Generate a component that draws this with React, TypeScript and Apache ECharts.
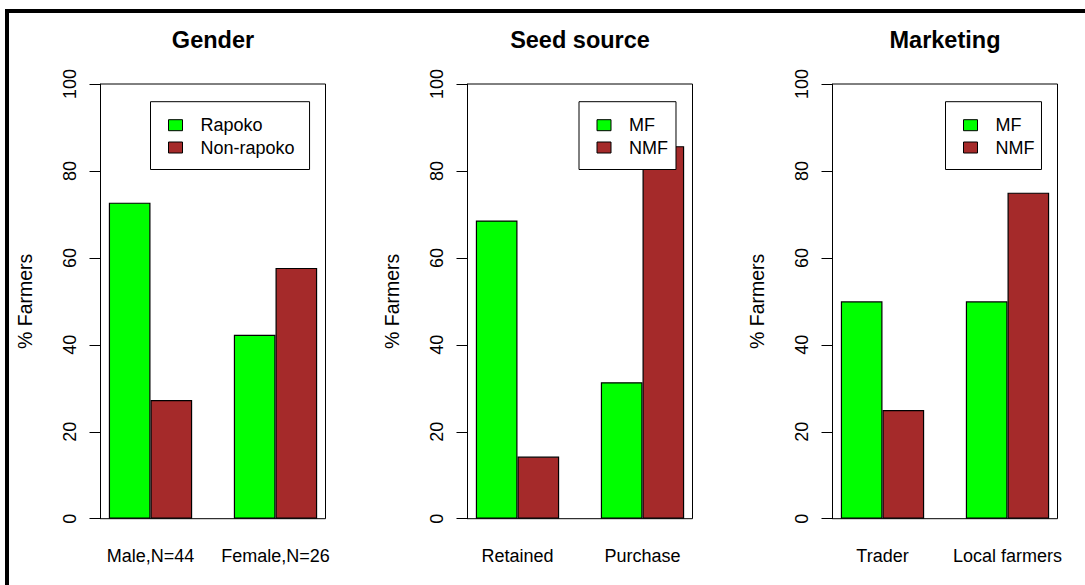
import { useEffect, useRef } from 'react';
import * as echarts from 'echarts';

// Percent of farmers per group, three small panels side by side
const genderCategories = ['Male,N=44', 'Female,N=26'];
const genderNames = ['Rapoko', 'Non-rapoko'];
const genderRapoko = [72.7, 42.3];
const genderNonRapoko = [27.3, 57.7];

const seedCategories = ['Retained', 'Purchase'];
const seedNames = ['MF', 'NMF'];
const seedMF = [68.6, 31.4];
const seedNMF = [14.3, 85.7];

const marketCategories = ['Trader', 'Local farmers'];
const marketNames = ['MF', 'NMF'];
const marketMF = [50, 50];
const marketNMF = [25, 75];

const titles = ['Gender', 'Seed source', 'Marketing'];
const yAxisTitle = '% Farmers';

const FONT = '"Liberation Sans", Arial, Helvetica, sans-serif';
const COLORS = ['#00ff00', '#a52a2a'];

// Bars sit in units of one bar width: group i is centred on 2 + 3 * i,
// the axis spans 0.8 .. 6.2 like a base-graphics barplot.
const X_MIN = 0.8;
const X_MAX = 6.2;
const groupCenter = (i: number) => 2 + 3 * i;

const panels = [
  {
    title: titles[0],
    categories: genderCategories,
    names: genderNames,
    values: [genderRapoko, genderNonRapoko],
    gridLeft: 100.5,
    legendLeft: 150.5,
    legendPadRight: 15,
  },
  {
    title: titles[1],
    categories: seedCategories,
    names: seedNames,
    values: [seedMF, seedNMF],
    gridLeft: 467.5,
    legendLeft: 579,
    legendPadRight: 8,
  },
  {
    title: titles[2],
    categories: marketCategories,
    names: marketNames,
    values: [marketMF, marketNMF],
    gridLeft: 832.5,
    legendLeft: 945.5,
    legendPadRight: 7,
  },
];

const GRID_TOP = 84;
const GRID_HEIGHT = 434.7;
const GRID_WIDTH = 225;
const BAR_WIDTH = GRID_WIDTH / (X_MAX - X_MIN);

function buildOption(): echarts.EChartsOption {
  const grid: any[] = [];
  const xAxis: any[] = [];
  const yAxis: any[] = [];
  const series: any[] = [];
  const legend: any[] = [];
  const title: any[] = [];

  panels.forEach((p, pi) => {
    grid.push({
      left: p.gridLeft,
      top: GRID_TOP,
      width: GRID_WIDTH,
      height: GRID_HEIGHT,
      show: true,
      borderColor: '#000',
      borderWidth: 1,
      backgroundColor: 'transparent',
    });
    xAxis.push({
      type: 'value',
      gridIndex: pi,
      min: X_MIN,
      max: X_MAX,
      axisLine: { show: false },
      axisTick: { show: false },
      splitLine: { show: false },
      axisLabel: {
        customValues: p.categories.map((_, i) => groupCenter(i)),
        formatter: (v: number) => {
          const i = Math.round((v - 2) / 3);
          return p.categories[i] ?? '';
        },
        fontFamily: FONT,
        fontSize: 18,
        color: '#000',
        margin: 28,
      },
    });
    yAxis.push({
      type: 'value',
      gridIndex: pi,
      min: 0,
      max: 100,
      interval: 20,
      name: yAxisTitle,
      nameLocation: 'middle',
      nameRotate: 90,
      nameGap: 66,
      nameTextStyle: { fontFamily: FONT, fontSize: 19.5, color: '#000' },
      axisLine: { show: true, lineStyle: { color: '#000', width: 1 } },
      axisTick: { show: true, length: 11, lineStyle: { color: '#000', width: 1 } },
      splitLine: { show: false },
      axisLabel: {
        rotate: 90,
        fontFamily: FONT,
        fontSize: 18,
        color: '#000',
        margin: 22,
      },
    });
    p.names.forEach((name, si) => {
      series.push({
        type: 'bar',
        name,
        xAxisIndex: pi,
        yAxisIndex: pi,
        barWidth: BAR_WIDTH,
        barGap: '0%',
        itemStyle: { color: COLORS[si], borderColor: '#000', borderWidth: 1.2 },
        data: p.values[si].map((v, i) => [groupCenter(i), v]),
      });
    });
    legend.push({
      data: p.names,
      orient: 'vertical',
      left: p.legendLeft,
      top: 101.7,
      padding: [14.5, p.legendPadRight, 13, 17.5],
      itemWidth: 14,
      itemHeight: 11,
      itemGap: 4.3,
      icon: 'rect',
      borderColor: '#000',
      borderWidth: 1,
      backgroundColor: '#fff',
      selectedMode: false,
      itemStyle: { borderColor: '#000', borderWidth: 1 },
      textStyle: {
        fontFamily: FONT,
        fontSize: 18,
        color: '#000',
        lineHeight: 18,
        padding: [0, 0, 0, 13],
      },
    });
    title.push({
      text: p.title,
      left: p.gridLeft + GRID_WIDTH / 2,
      top: 28,
      padding: 0,
      textAlign: 'center',
      textStyle: { fontFamily: FONT, fontSize: 23.5, fontWeight: 'bold', color: '#000' },
    });
  });

  return {
    animation: false,
    backgroundColor: '#fff',
    title,
    legend,
    grid,
    xAxis,
    yAxis,
    series,
    graphic: [
      {
        type: 'rect',
        silent: true,
        shape: { x: 7, y: 11, width: 1300, height: 800 },
        style: { fill: 'none', stroke: '#000', lineWidth: 4 },
      },
    ],
  };
}

export default function App() {
  const ref = useRef<HTMLDivElement>(null);
  useEffect(() => {
    if (!ref.current) return;
    const chart = echarts.init(ref.current, undefined, { renderer: 'svg' });
    chart.setOption(buildOption());
    return () => chart.dispose();
  }, []);
  return (
    <div
      ref={ref}
      style={{ position: 'fixed', left: 0, top: 0, width: 1085, height: 585 }}
    />
  );
}
